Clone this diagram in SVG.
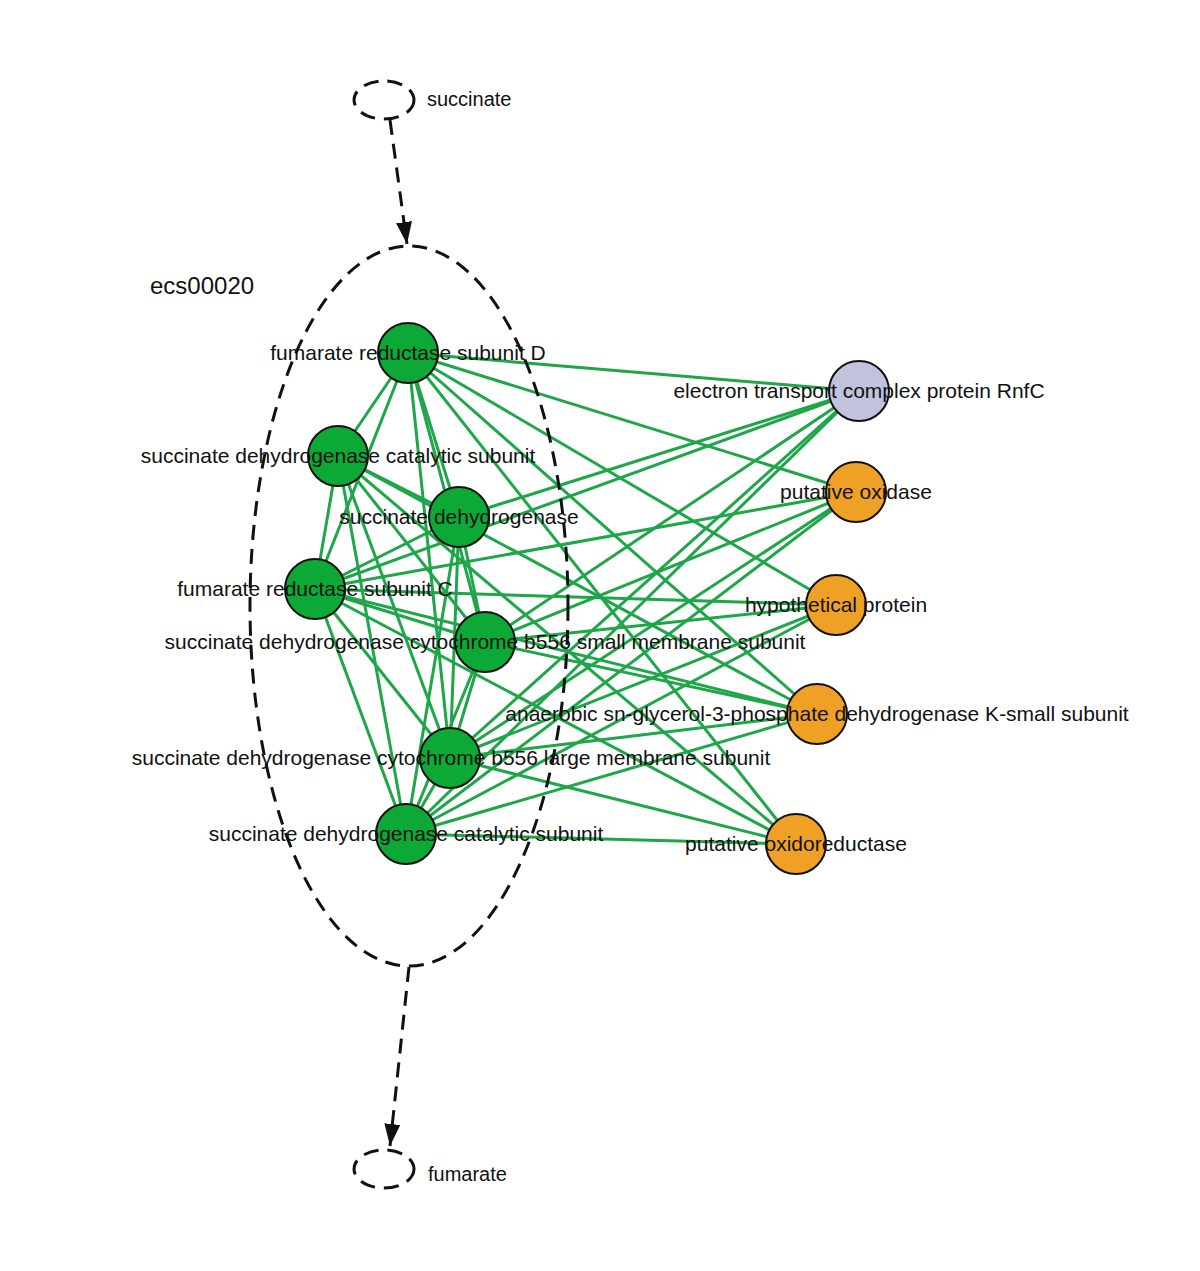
<svg xmlns="http://www.w3.org/2000/svg" width="1200" height="1271" viewBox="0 0 1200 1271">
<style>
.bg{fill:#ffffff}
.e{stroke:#1ea649;stroke-width:3;fill:none}
.g{fill:#0ca936;stroke:#111;stroke-width:2}
.o{fill:#eea124;stroke:#111;stroke-width:2}
.l{fill:#c0c2de;stroke:#111;stroke-width:2}
.t{font-family:"Liberation Sans",Arial,sans-serif;font-size:21px;fill:#111;text-anchor:middle}
.dash{fill:none;stroke:#111;stroke-width:3;stroke-dasharray:15 9}
</style>
<defs>
<marker id="ah" markerUnits="userSpaceOnUse" markerWidth="24" markerHeight="18" refX="22" refY="8" orient="auto">
<path d="M0,0 L22,8 L0,16 z" fill="#111"/>
</marker>
</defs>
<rect class="bg" x="0" y="0" width="1200" height="1271"/>
<g id="connectors">
<line class="e" x1="408" y1="353" x2="338" y2="456"/>
<line class="e" x1="408" y1="353" x2="459" y2="517"/>
<line class="e" x1="408" y1="353" x2="315" y2="589"/>
<line class="e" x1="408" y1="353" x2="485" y2="642"/>
<line class="e" x1="408" y1="353" x2="450" y2="758"/>
<line class="e" x1="338" y1="456" x2="459" y2="517"/>
<line class="e" x1="338" y1="456" x2="315" y2="589"/>
<line class="e" x1="338" y1="456" x2="485" y2="642"/>
<line class="e" x1="338" y1="456" x2="450" y2="758"/>
<line class="e" x1="338" y1="456" x2="406" y2="834"/>
<line class="e" x1="459" y1="517" x2="315" y2="589"/>
<line class="e" x1="459" y1="517" x2="485" y2="642"/>
<line class="e" x1="459" y1="517" x2="450" y2="758"/>
<line class="e" x1="459" y1="517" x2="406" y2="834"/>
<line class="e" x1="315" y1="589" x2="485" y2="642"/>
<line class="e" x1="315" y1="589" x2="450" y2="758"/>
<line class="e" x1="315" y1="589" x2="406" y2="834"/>
<line class="e" x1="485" y1="642" x2="450" y2="758"/>
<line class="e" x1="485" y1="642" x2="406" y2="834"/>
<line class="e" x1="450" y1="758" x2="406" y2="834"/>
<line class="e" x1="408" y1="353" x2="859" y2="391"/>
<line class="e" x1="315" y1="589" x2="859" y2="391"/>
<line class="e" x1="459" y1="517" x2="859" y2="391"/>
<line class="e" x1="485" y1="642" x2="859" y2="391"/>
<line class="e" x1="450" y1="758" x2="859" y2="391"/>
<line class="e" x1="406" y1="834" x2="859" y2="391"/>
<line class="e" x1="408" y1="353" x2="856" y2="492"/>
<line class="e" x1="315" y1="589" x2="856" y2="492"/>
<line class="e" x1="485" y1="642" x2="856" y2="492"/>
<line class="e" x1="450" y1="758" x2="856" y2="492"/>
<line class="e" x1="406" y1="834" x2="856" y2="492"/>
<line class="e" x1="408" y1="353" x2="836" y2="605"/>
<line class="e" x1="315" y1="589" x2="836" y2="605"/>
<line class="e" x1="485" y1="642" x2="836" y2="605"/>
<line class="e" x1="450" y1="758" x2="836" y2="605"/>
<line class="e" x1="406" y1="834" x2="836" y2="605"/>
<line class="e" x1="408" y1="353" x2="817" y2="714"/>
<line class="e" x1="338" y1="456" x2="817" y2="714"/>
<line class="e" x1="315" y1="589" x2="817" y2="714"/>
<line class="e" x1="485" y1="642" x2="817" y2="714"/>
<line class="e" x1="450" y1="758" x2="817" y2="714"/>
<line class="e" x1="406" y1="834" x2="817" y2="714"/>
<line class="e" x1="408" y1="353" x2="796" y2="844"/>
<line class="e" x1="338" y1="456" x2="796" y2="844"/>
<line class="e" x1="315" y1="589" x2="796" y2="844"/>
<line class="e" x1="450" y1="758" x2="796" y2="844"/>
<line class="e" x1="406" y1="834" x2="796" y2="844"/>
<line class="dash" x1="390" y1="120" x2="407" y2="244" marker-end="url(#ah)"/>
<line class="dash" x1="409" y1="967" x2="390" y2="1146" marker-end="url(#ah)"/>
</g>
<g id="node-succinate">
<ellipse class="dash" cx="384" cy="100" rx="30" ry="19"/>
<text class="t" x="427" y="106" style="text-anchor:start;font-size:20px">succinate</text>
</g>
<g id="node-fumarate">
<ellipse class="dash" cx="384" cy="1169" rx="30" ry="19"/>
<text class="t" x="428" y="1181" style="text-anchor:start;font-size:20px">fumarate</text>
</g>
<g id="node-ecs00020">
<ellipse class="dash" cx="409" cy="606" rx="159" ry="360"/>
<text class="t" x="150" y="294" style="text-anchor:start;font-size:24px">ecs00020</text>
</g>
<g id="node-frdD">
<circle class="g" cx="408" cy="353" r="30"/>
<text class="t" x="408" y="360">fumarate reductase subunit D</text>
</g>
<g id="node-sdhA1">
<circle class="g" cx="338" cy="456" r="30"/>
<text class="t" x="338" y="463">succinate dehydrogenase catalytic subunit</text>
</g>
<g id="node-sdh">
<circle class="g" cx="459" cy="517" r="30"/>
<text class="t" x="459" y="524">succinate dehydrogenase</text>
</g>
<g id="node-frdC">
<circle class="g" cx="315" cy="589" r="30"/>
<text class="t" x="315" y="596">fumarate reductase subunit C</text>
</g>
<g id="node-sdhD">
<circle class="g" cx="485" cy="642" r="30"/>
<text class="t" x="485" y="649">succinate dehydrogenase cytochrome b556 small membrane subunit</text>
</g>
<g id="node-sdhC">
<circle class="g" cx="450" cy="758" r="30"/>
<text class="t" x="451" y="765">succinate dehydrogenase cytochrome b556 large membrane subunit</text>
</g>
<g id="node-sdhA2">
<circle class="g" cx="406" cy="834" r="30"/>
<text class="t" x="406" y="841">succinate dehydrogenase catalytic subunit</text>
</g>
<g id="node-rnfC">
<circle class="l" cx="859" cy="391" r="30"/>
<text class="t" x="859" y="398">electron transport complex protein RnfC</text>
</g>
<g id="node-oxidase">
<circle class="o" cx="856" cy="492" r="30"/>
<text class="t" x="856" y="499">putative oxidase</text>
</g>
<g id="node-hypo">
<circle class="o" cx="836" cy="605" r="30"/>
<text class="t" x="836" y="612">hypothetical protein</text>
</g>
<g id="node-glpK">
<circle class="o" cx="817" cy="714" r="30"/>
<text class="t" x="817" y="721">anaerobic sn-glycerol-3-phosphate dehydrogenase K-small subunit</text>
</g>
<g id="node-oxred">
<circle class="o" cx="796" cy="844" r="30"/>
<text class="t" x="796" y="851">putative oxidoreductase</text>
</g>
</svg>
